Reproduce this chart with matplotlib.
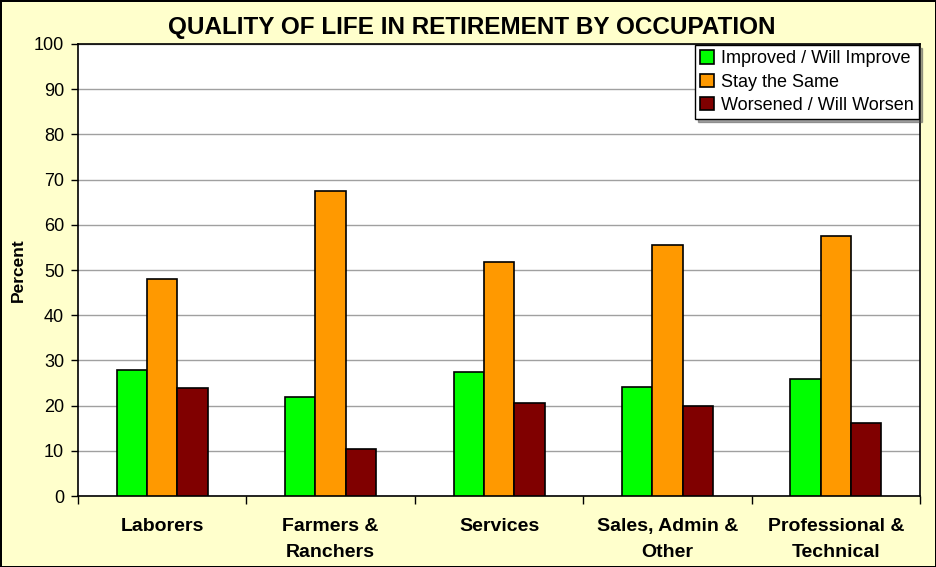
import numpy as np
import matplotlib
matplotlib.use("Agg")
import matplotlib.pyplot as plt

occupations = ["Laborers", "Farmers &\nRanchers", "Services",
               "Sales, Admin &\nOther", "Professional &\nTechnical"]
series_names = ["Improved / Will Improve", "Stay the Same",
                "Worsened / Will Worsen"]
improved = [27.8, 21.9, 27.4, 24.1, 25.8]
same = [48.1, 67.5, 51.7, 55.6, 57.6]
worsened = [23.8, 10.4, 20.5, 19.9, 16.2]
colors = ["#00FF00", "#FF9900", "#800000"]

plt.rcParams["font.family"] = ["Liberation Sans", "DejaVu Sans"]

fig = plt.figure(figsize=(9.36, 5.67), dpi=100)
fig.patch.set_facecolor("#FFFFCC")
fig.patch.set_edgecolor("black")
fig.patch.set_linewidth(2)
ax = fig.add_axes([0.0833, 0.1252, 0.8997, 0.7972])
ax.set_facecolor("white")

x = np.arange(len(occupations))
width = 0.18
for i, (vals, name) in enumerate(zip([improved, same, worsened], series_names)):
    ax.bar(x + (i - 1) * width, vals, width=width, color=colors[i],
           edgecolor="black", linewidth=1.2, label=name, zorder=3)

ax.set_xlim(-0.5, len(occupations) - 0.5)
ax.set_ylim(0, 100)
ax.set_yticks(np.arange(0, 101, 10))
ax.yaxis.grid(True, color="#A0A0A0", linewidth=1, zorder=0)
ax.tick_params(axis="y", direction="out", length=5, width=1, labelsize=13, pad=5)

# ticks between categories, labels centred under each group
ax.set_xticks(np.arange(-0.5, len(occupations), 1))
ax.set_xticklabels([])
ax.tick_params(axis="x", which="major", direction="out", length=6, width=1)
ax.set_xticks(x, minor=True)
ax.set_xticklabels(occupations, minor=True, fontsize=14, fontweight="bold",
                   linespacing=1.65)
ax.tick_params(axis="x", which="minor", length=0, pad=16)

for s in ax.spines.values():
    s.set_color("black")
    s.set_linewidth(1.2)

ax.set_ylabel("Percent", fontsize=12.5, fontweight="bold", labelpad=6)
fig.text(0.504, 0.951, "QUALITY OF LIFE IN RETIREMENT BY OCCUPATION",
         ha="center", va="center", fontsize=17.5, fontweight="bold")

leg = ax.legend(loc="upper right", bbox_to_anchor=(1.0, 1.0), fontsize=13,
                frameon=True, fancybox=False, shadow=True, edgecolor="black",
                handlelength=0.75, handleheight=0.75, handletextpad=0.4,
                borderpad=0.3, labelspacing=0.35, borderaxespad=0.05)
leg.get_frame().set_linewidth(1)

fig.savefig("out.png", dpi=100)
